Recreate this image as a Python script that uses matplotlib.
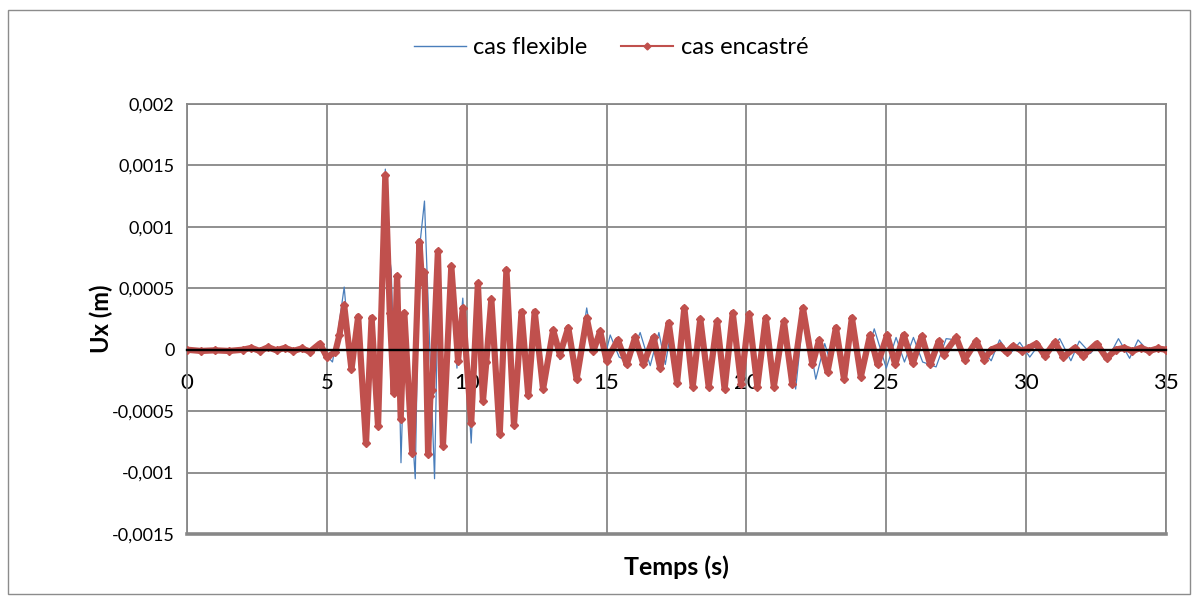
import matplotlib
matplotlib.use('Agg')
import matplotlib.pyplot as plt
from matplotlib.lines import Line2D
from matplotlib.patches import Rectangle
import numpy as np

# ---- data (values in 1e-4 m: successive extrema) ----
t_encastre = [0.0, 0.5, 1.0, 1.5, 2.0, 2.3, 2.6, 2.9, 3.2, 3.5, 3.8, 4.1, 4.4, 4.75, 5.0, 5.3, 5.45,
              5.62, 5.88, 6.12, 6.40, 6.60, 6.83, 7.09, 7.25, 7.39, 7.51, 7.64, 7.77, 8.05,
              8.31, 8.40, 8.49, 8.62, 8.70, 8.76, 8.97, 9.15, 9.45, 9.69, 9.86, 10.16, 10.40,
              10.58, 10.70, 10.88, 11.18, 11.42, 11.69, 11.96, 12.20, 12.43, 12.73, 13.09,
              13.33, 13.63, 13.93, 14.29, 14.53, 14.77, 15.00, 15.40, 15.72, 16.02, 16.32,
              16.68, 16.92, 17.22, 17.52, 17.78, 18.08, 18.35, 18.65, 18.95, 19.22, 19.51,
              19.81, 20.09, 20.39, 20.69, 20.98, 21.34, 21.64, 22.02, 22.36, 22.60, 22.90,
              23.20, 23.49, 23.77, 24.09, 24.42, 24.69, 25.03, 25.32, 25.62, 25.95, 26.27,
              26.57, 26.88, 27.05, 27.50, 27.80, 28.22, 28.51, 28.75, 29.05, 29.30, 29.53,
              29.85, 30.05, 30.37, 30.67, 31.03, 31.33, 31.74, 32.04, 32.52, 32.88, 33.20,
              33.50, 33.80, 34.10, 34.40, 34.70, 35.00]
u_encastre = [0.0, -0.1, -0.05, -0.1, 0.0, 0.15, -0.1, 0.2, -0.05, 0.15, -0.1, 0.1, -0.15, 0.5, -0.6, -0.2, 1.2,
              3.6, -1.6, 2.7, -7.6, 2.6, -6.2, 14.2, 3.0, -3.5, 6.0, -5.6, 3.0, -8.4,
              8.8, 5.5, 6.3, -8.5, -3.8, -3.3, 8.0, -7.8, 6.8, -0.9, 3.4, -6.0, 5.4,
              -4.2, -1.0, 4.1, -6.9, 6.5, -6.1, 3.1, -3.7, 3.1, -3.2, 1.6,
              -0.4, 1.8, -2.4, 2.6, -0.1, 1.5, -0.9, 0.8, -1.2, 1.0, -1.2,
              1.0, -1.5, 2.2, -2.7, 3.4, -3.0, 2.5, -3.0, 2.3, -3.2, 3.0,
              -2.8, 2.9, -3.0, 2.6, -3.0, 2.3, -2.8, 3.4, -1.2, 0.8, -1.8,
              1.8, -2.4, 2.6, -2.2, 1.2, -1.2, 1.2, -1.2, 1.2, -1.1, 1.1,
              -1.2, 0.7, -0.4, 1.0, -0.8, 0.7, -0.8, 0.0, 0.3, -0.2, 0.3,
              -0.1, 0.1, 0.5, -0.5, 0.6, -0.6, 0.15, -0.5, 0.5, -0.7, 0.0,
              0.15, -0.1, 0.15, -0.1, 0.1, 0.0]

t_flexible = [0.0, 0.5, 1.0, 1.5, 2.0, 2.3, 2.6, 2.9, 3.2, 3.5, 3.8, 4.1, 4.4, 4.75, 5.0, 5.2, 5.4,
              5.62, 5.88, 6.12, 6.40, 6.60, 6.83, 7.09, 7.24, 7.30, 7.42, 7.52, 7.65, 7.80, 8.16,
              8.30, 8.49, 8.85, 9.00, 9.15, 9.45, 9.65, 9.86, 10.16, 10.40, 10.58, 10.75,
              10.90, 11.18, 11.42, 11.69, 11.96, 12.20, 12.43, 12.73, 13.09, 13.33, 13.63,
              13.93, 14.29, 14.53, 14.77, 14.95, 15.13, 15.45, 15.80, 16.20, 16.56, 16.87,
              17.10, 17.30, 17.55, 17.80, 18.10, 18.37, 18.67, 18.97, 19.24, 19.53, 19.83,
              20.11, 20.41, 20.71, 21.00, 21.36, 21.76, 22.05, 22.48, 22.80, 23.00, 23.25,
              23.52, 23.80, 24.12, 24.57, 25.00, 25.35, 25.65, 25.97, 26.30, 26.78, 27.14,
              27.50, 27.85, 28.25, 28.75, 29.05, 29.40, 29.77, 30.13, 30.45, 30.75, 31.20,
              31.60, 31.90, 32.30, 32.60, 32.95, 33.30, 33.70, 34.00, 34.40, 34.70, 35.00]
u_flexible = [0.0, -0.1, -0.05, -0.1, 0.0, 0.15, -0.1, 0.2, -0.05, 0.15, -0.1, 0.1, -0.15, 0.5, -0.5, -1.0, 1.5,
              5.1, -1.8, 2.8, -7.8, 2.7, -6.3, 14.7, 7.5, 6.5, -2.5, 5.5, -9.2, 2.5, -10.5,
              8.0, 12.1, -10.5, 7.5, -7.5, 6.5, -1.5, 4.2, -7.6, 5.0, -3.5, 2.2,
              3.5, -6.5, 6.0, -6.0, 2.5, -3.5, 3.0, -3.0, 1.4, -0.8, 1.8,
              -2.2, 3.4, 0.0, 1.2, -0.5, 1.2, -0.6, -1.0, 1.4, -1.3, 1.4,
              -1.2, 1.5, -2.5, 3.2, -2.8, 2.4, -2.8, 2.2, -3.0, 2.9, -2.6,
              2.7, -2.8, 2.5, -2.8, 2.1, -3.2, 3.2, -2.4, 0.5, -1.0, 1.6,
              -2.2, 2.4, -2.0, 1.7, -1.5, 1.0, -1.0, 1.0, -1.0, -1.4, 0.9,
              0.8, -0.7, 0.5, -0.9, 0.8, -0.4, 0.6, -0.6, 0.4, -0.3, 0.9,
              -0.9, 0.7, -0.3, 0.5, -0.6, 0.9, -0.7, 0.8, -0.2, 0.2, 0.0]

x_ticks = [0, 5, 10, 15, 20, 25, 30, 35]
y_ticks = [-0.0015, -0.001, -0.0005, 0, 0.0005, 0.001, 0.0015, 0.002]
y_tick_labels = ['-0,0015', '-0,001', '-0,0005', '0', '0,0005', '0,001', '0,0015', '0,002']
series_names = ['cas flexible', 'cas encastré']

# ---- styling ----
W, H = 1195, 596
BLUE = '#4A7EBB'
RED = '#C0504D'
GRID = '#878787'
FONT = 'Lato'
plt.rcParams['font.family'] = [FONT, 'DejaVu Sans']

fig = plt.figure(figsize=(W / 100, H / 100), dpi=100)
fig.patches.append(Rectangle((8 / W, 1 - 594 / H), (1190 - 8) / W, (594 - 10) / H,
                             transform=fig.transFigure, fill=False, edgecolor='#8C8C8C', lw=1.0))

L, R, T, B = 187, 1166, 104, 534
ax = fig.add_axes([L / W, 1 - B / H, (R - L) / W, (B - T) / H])

fx = np.array(t_flexible)
fy = np.array(u_flexible) * 1e-4
ex = np.array(t_encastre)
ey = np.array(u_encastre) * 1e-4

ax.plot(fx, fy, color=BLUE, lw=0.9, zorder=3)
ax.plot(ex, ey, color=RED, lw=4.5, marker='D', ms=4.5, mec=RED, mfc=RED,
        solid_joinstyle='round', solid_capstyle='round', zorder=4)

ax.set_xlim(0, 35)
ax.set_ylim(-0.0015, 0.002)
ax.set_xticks(x_ticks)
ax.set_yticks(y_ticks)
ax.set_yticklabels(y_tick_labels)
ax.grid(True, color=GRID, lw=1.3, zorder=0)
ax.set_axisbelow(True)

for s in ['top', 'left', 'right']:
    ax.spines[s].set_color(GRID)
    ax.spines[s].set_linewidth(1.3)
ax.spines['bottom'].set_position(('data', 0))
ax.spines['bottom'].set_color('black')
ax.spines['bottom'].set_linewidth(1.7)
ax.spines['bottom'].set_zorder(5)
ax.axhline(-0.0015, color=GRID, lw=2.6, zorder=1, clip_on=False)

ax.tick_params(axis='both', length=0, colors='black')
ax.tick_params(axis='x', pad=17, labelsize=16)
ax.tick_params(axis='y', pad=9, labelsize=13)

ax.set_xlabel('Temps (s)', fontsize=18, fontweight='bold')
ax.xaxis.set_label_coords((676 - L) / (R - L), 1 - (555 - T) / (B - T))
ax.set_ylabel('Ux (m)', fontsize=17, fontweight='bold')
ax.yaxis.set_label_coords((113 - L) / (R - L), 0.5)

handles = [Line2D([], [], color=BLUE, lw=1.0),
           Line2D([], [], color=RED, lw=1.5, marker='D', ms=3.5)]
fig.legend(handles, series_names, loc='center', bbox_to_anchor=(611 / W, 1 - 48 / H),
           ncol=2, frameon=False, fontsize=17, handlelength=2.2, handletextpad=0.3,
           columnspacing=1.45)

fig.savefig('out.png', dpi=100)
